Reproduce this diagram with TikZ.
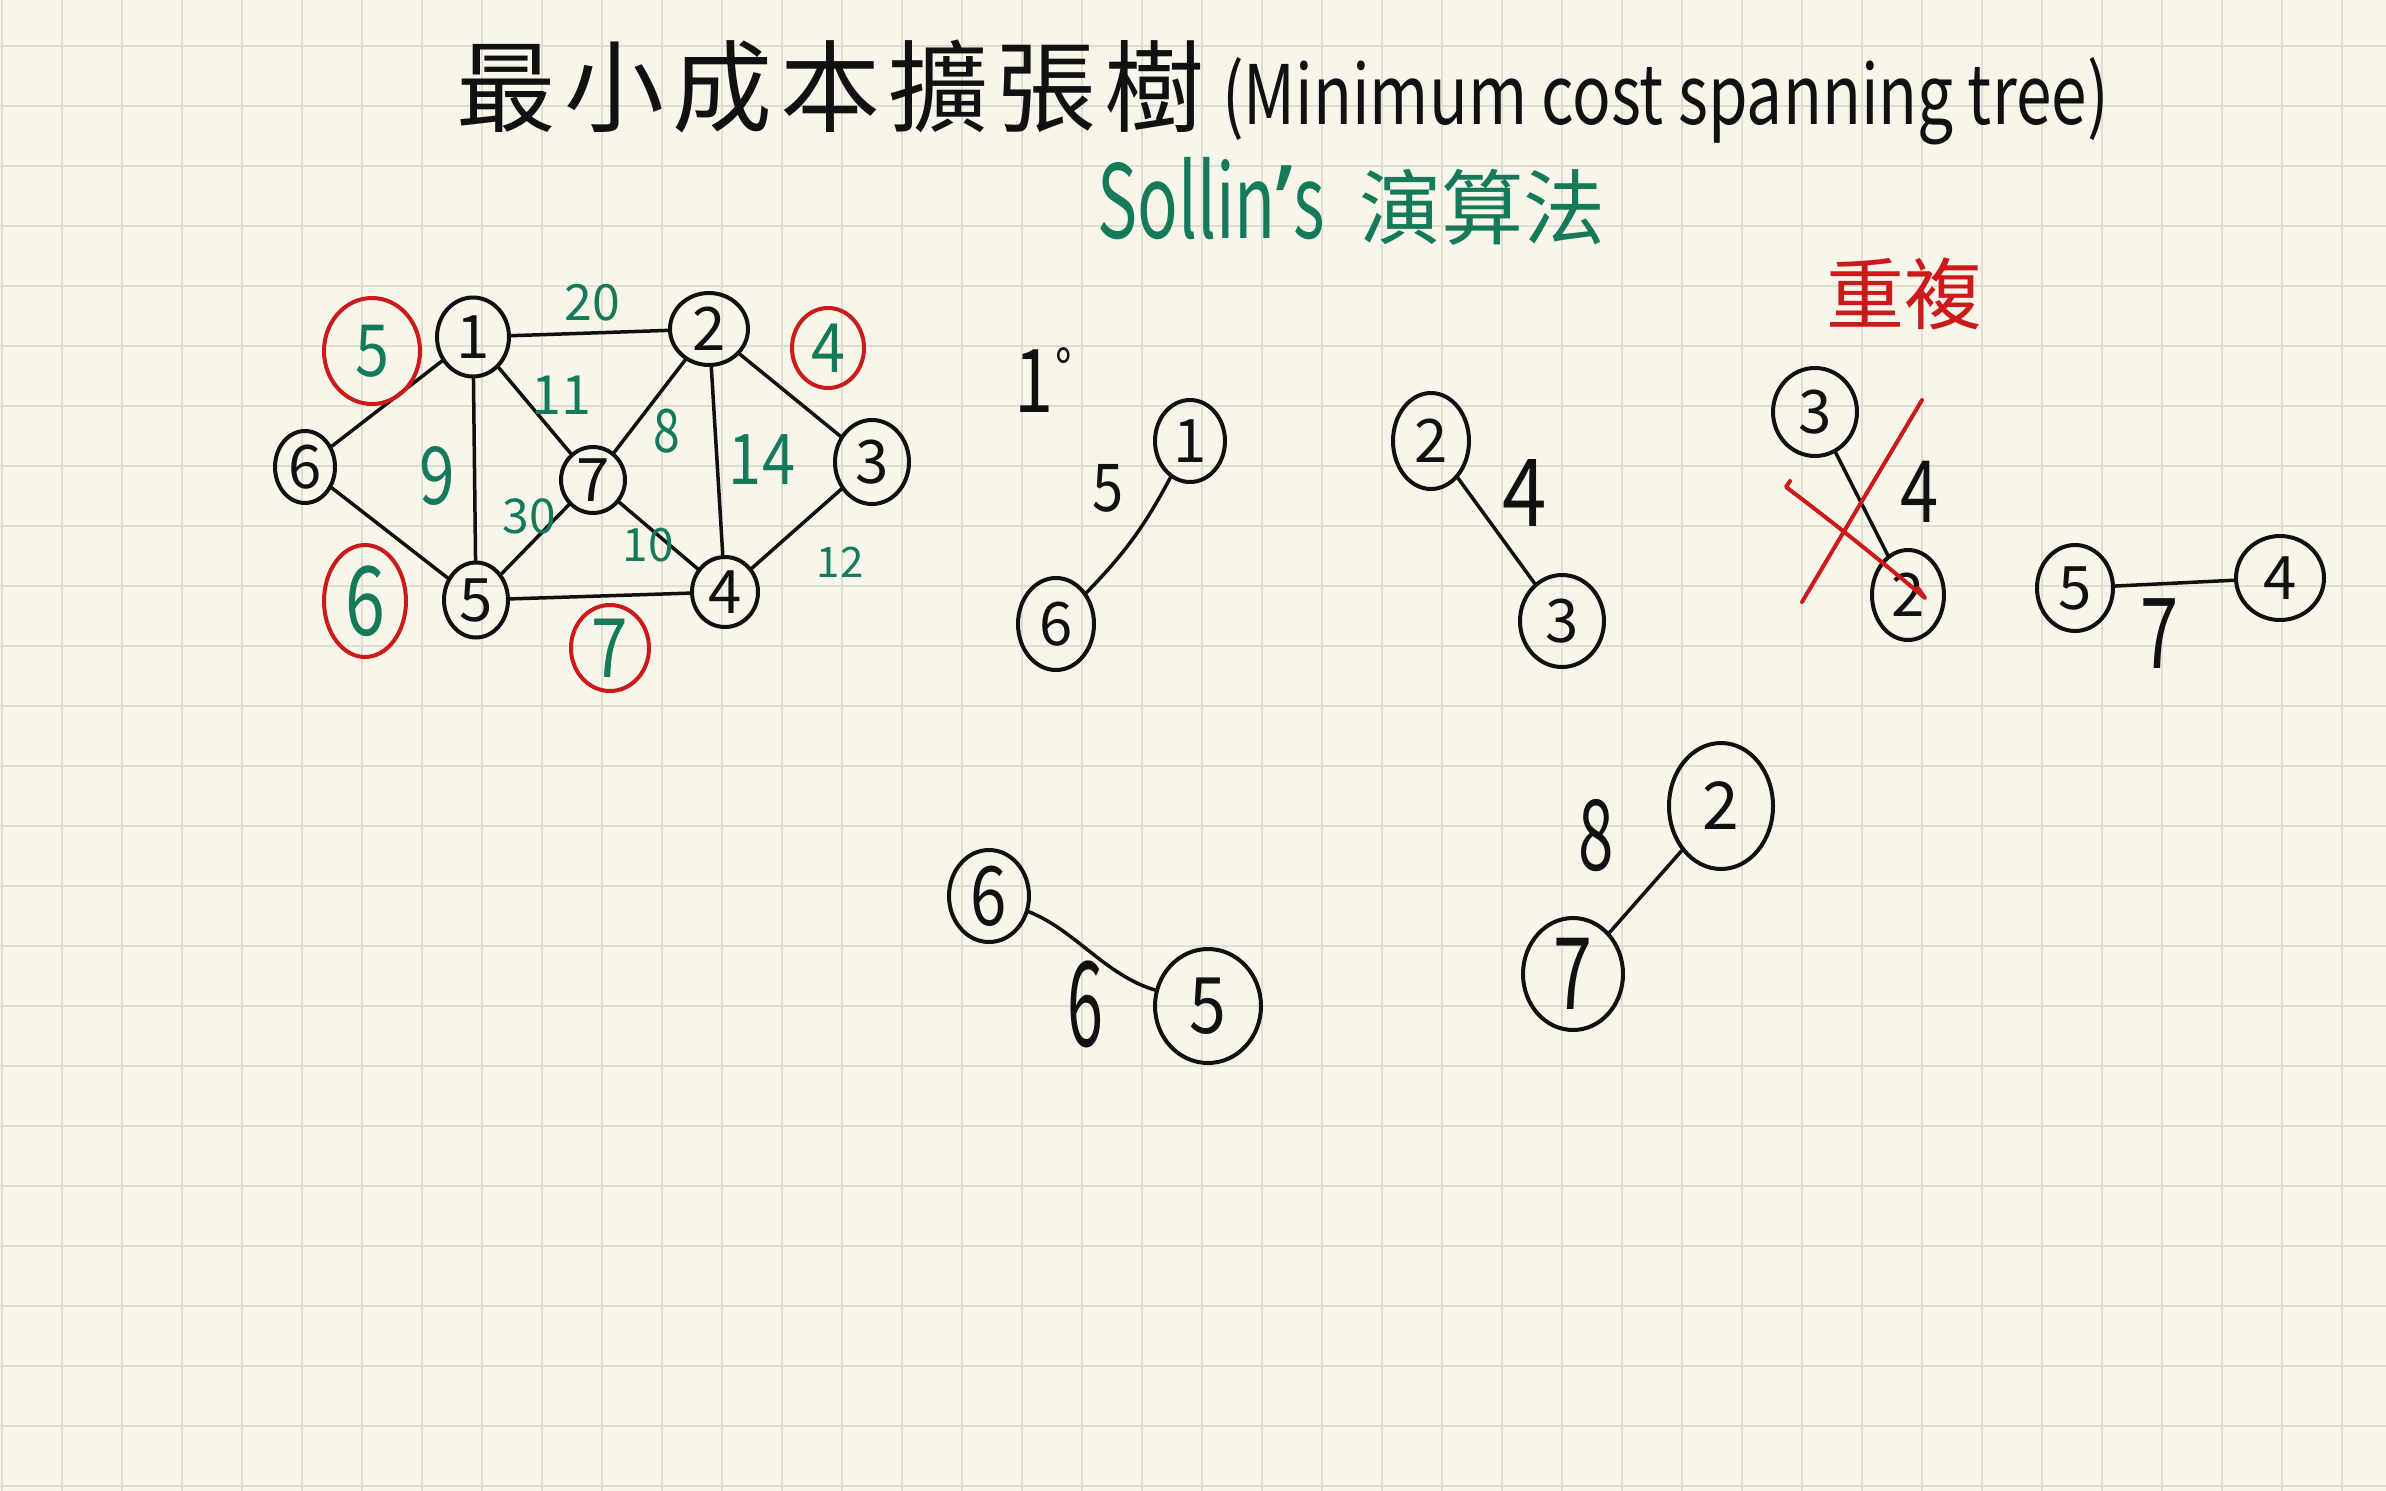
\documentclass[tikz,border=0pt]{standalone}
\usepackage{fontspec}
\setmainfont{Noto Sans CJK TC}
\newfontfamily\latinf{Noto Sans}
\usetikzlibrary{shapes.geometric}
\definecolor{paper}{HTML}{F8F6EA}
\definecolor{gridc}{HTML}{E0DDD2}
\definecolor{ink}{HTML}{111111}
\definecolor{gink}{HTML}{147A5A}
\definecolor{rink}{HTML}{CC1A1A}
\newcommand\fsz[1]{\fontsize{#1}{#1}\selectfont}
\newcommand\hw[2]{\fontsize{#1}{#1}\selectfont\addfontfeature{FakeStretch=#2}}
\begin{document}
\begin{tikzpicture}[x=1pt,y=-1pt,
  vtx/.style={draw=ink, line width=4pt, ellipse, inner sep=0pt, text=ink},
  edge/.style={draw=ink, line width=3.5pt, line cap=round},
  wt/.style={text=gink, inner sep=0pt},
  ring/.style={draw=rink, line width=4pt, ellipse, inner sep=0pt, text=gink},
  bwt/.style={text=ink, inner sep=0pt},
  cross/.style={draw=rink, line width=4pt, line cap=round, line join=round}]
\fill[paper] (0,0) rectangle (2386,1491);
\useasboundingbox (0,0) rectangle (2386,1491);
\foreach \i in {0,...,39} \draw[gridc, line width=2.5pt] ({2+60*\i},0) -- ({2+60*\i},1491);
\foreach \j in {0,...,24} \draw[gridc, line width=2.5pt] (0,{46+60*\j}) -- (2386,{46+60*\j});

% title
\node[anchor=base west, inner sep=0pt, text=ink] (title) at (456,124)
  {{\fsz{100}\addfontfeature{LetterSpace=8}最小成本擴張樹}\hspace{18pt}{\hw{82}{0.78}(Minimum cost spanning tree)}};
\node[anchor=base west, text=gink, inner sep=0pt] (subtitle) at (1097,238)
  {{\hw{102}{0.66}Sollin{\latinf ’}s}\hspace{34pt}{\fsz{82}演算法}};

% main graph
\node[vtx, minimum width=72pt, minimum height=79pt] (g1) at (473,337) {\fsz{60}1};
\node[vtx, minimum width=78pt, minimum height=72pt] (g2) at (709,329) {\fsz{60}2};
\node[vtx, minimum width=60pt, minimum height=72pt] (g6) at (305,467) {\fsz{60}6};
\node[vtx, minimum width=64pt, minimum height=66pt] (g7) at (593,480) {\fsz{60}7};
\node[vtx, minimum width=74pt, minimum height=84pt] (g3) at (872,462) {\fsz{60}3};
\node[vtx, minimum width=64pt, minimum height=75pt] (g5) at (476,600) {\fsz{60}5};
\node[vtx, minimum width=66pt, minimum height=70pt] (g4) at (725,592) {\fsz{60}4};

\draw[edge] (g1) -- (g2);
\draw[edge] (g1) -- (g6);
\draw[edge] (g1) -- (g5);
\draw[edge] (g1) -- (g7);
\draw[edge] (g2) -- (g7);
\draw[edge] (g2) -- (g4);
\draw[edge] (g2) -- (g3);
\draw[edge] (g6) -- (g5);
\draw[edge] (g7) -- (g5);
\draw[edge] (g7) -- (g4);
\draw[edge] (g3) -- (g4);
\draw[edge] (g5) -- (g4);

\node[wt] (w12) at (592,303) {\fsz{50}20};
\node[wt] (w17) at (561,395) {\fsz{54}11};
\node[wt] (w27) at (667,431) {\hw{60}{0.8}8};
\node[wt] (w15) at (437,476) {\hw{80}{0.8}9};
\node[wt] (w24) at (762,460) {\hw{70}{0.85}14};
\node[wt] (w75) at (529,516) {\fsz{48}30};
\node[wt] (w74) at (648,545) {\fsz{46}10};
\node[wt] (w34) at (840,562) {\fsz{42}12};

\node[ring, minimum width=96pt, minimum height=106pt] (r16) at (372,351) {\hw{72}{0.85}5};
\node[ring, minimum width=72pt, minimum height=80pt] (r23) at (828,348) {\hw{68}{0.9}4};
\node[ring, minimum width=82pt, minimum height=112pt] (r65) at (365,601) {\hw{96}{0.75}6};
\node[ring, minimum width=78pt, minimum height=86pt] (r54) at (610,648) {\hw{82}{0.8}7};

% step 1
\node[bwt, anchor=base west] (step) at (1014,412) {\hw{88}{0.8}1\hspace{2pt}\raisebox{22pt}{\fsz{56}°}};

\node[vtx, minimum width=70pt, minimum height=82pt] (c1) at (1190,441) {\fsz{60}1};
\node[vtx, minimum width=76pt, minimum height=92pt] (c6) at (1056,624) {\fsz{60}6};
\draw[edge] (c1) to[bend left=8] (c6);
\node[bwt] (l16) at (1108,488) {\hw{66}{0.85}5};

\node[vtx, minimum width=76pt, minimum height=96pt] (c2) at (1431,441) {\fsz{60}2};
\node[vtx, minimum width=84pt, minimum height=92pt] (c3) at (1562,621) {\fsz{60}3};
\draw[edge] (c2) -- (c3);
\node[bwt] (l23) at (1525,493) {\hw{94}{0.85}4};

\node[text=rink, inner sep=0pt] (dup) at (1904,294) {\fsz{78}重複};
\node[vtx, minimum width=84pt, minimum height=88pt] (d3) at (1815,412) {\fsz{60}3};
\node[vtx, minimum width=72pt, minimum height=90pt] (d2) at (1908,595) {\fsz{60}2};
\draw[edge] (d3) -- (d2);
\node[bwt] (l32) at (1920,492) {\hw{86}{0.8}4};
\draw[cross] (1922,400) -- (1802,602);
\draw[cross] (1790,481) -- (1786,487) .. controls (1830,520) and (1880,560) .. (1925,598) -- (1918,588);

\node[vtx, minimum width=76pt, minimum height=86pt] (d5) at (2075,588) {\fsz{60}5};
\node[vtx, minimum width=88pt, minimum height=84pt] (d4) at (2280,578) {\fsz{60}4};
\draw[edge] (d5) -- (d4);
\node[bwt] (l54) at (2160,634) {\hw{98}{0.7}7};

\node[vtx, minimum width=80pt, minimum height=92pt] (e6) at (989,896) {\hw{82}{0.8}6};
\node[vtx, minimum width=106pt, minimum height=114pt] (e5) at (1208,1006) {\hw{78}{0.85}5};
\draw[edge] (e6) .. controls (1075,930) and (1105,975) .. (e5);
\node[bwt] (l65) at (1085,1004) {\hw{118}{0.55}6};

\node[vtx, minimum width=104pt, minimum height=126pt] (e2) at (1721,806) {\fsz{66}2};
\node[vtx, minimum width=100pt, minimum height=112pt] (e7) at (1573,974) {\hw{100}{0.7}7};
\draw[edge] (e7) -- (e2);
\node[bwt] (l72) at (1596,836) {\hw{98}{0.65}8};
\end{tikzpicture}
\end{document}
